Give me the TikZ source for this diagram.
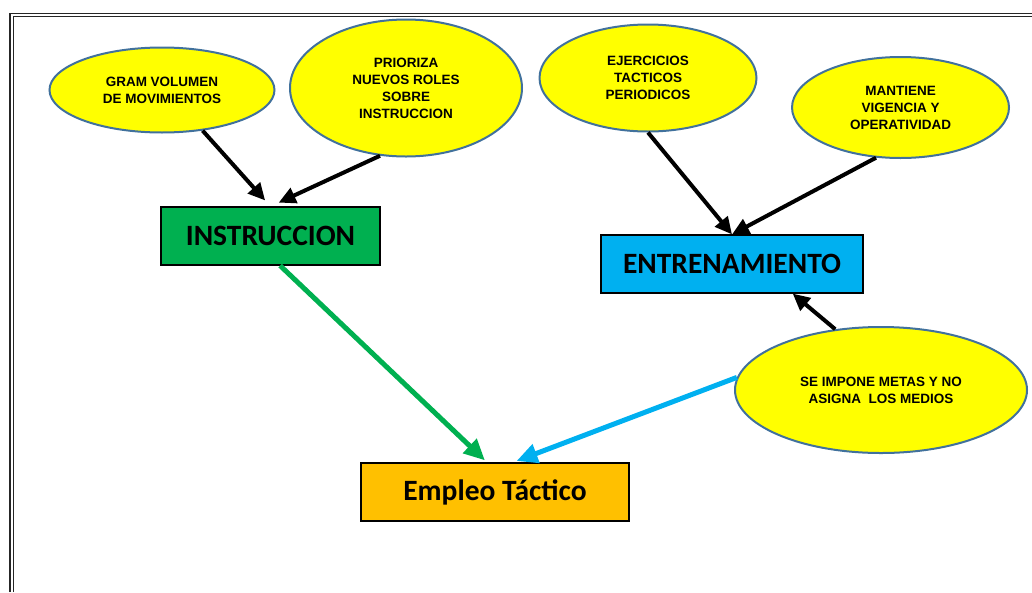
\documentclass[tikz,border=0pt]{standalone}
\usepackage{fontspec}
\setmainfont{Liberation Sans}
\newfontfamily\topicfont{Carlito}
\usetikzlibrary{shapes.geometric, arrows.meta}
\definecolor{ideafill}{HTML}{FFFF00}
\definecolor{ideaborder}{HTML}{41719C}
\definecolor{instrgreen}{HTML}{00B050}
\definecolor{entrblue}{HTML}{00B0F0}
\definecolor{empleoorange}{HTML}{FFC000}
\tikzset{idea/.style={ % Sets the properties for each yellow ellipse
ellipse, draw=ideaborder, line width=2pt,
fill=ideafill, inner sep=0pt, align=center,
font=\bfseries\fontsize{13.5}{17}\selectfont},
topic/.style={ % Sets the properties for each coloured box
rectangle, draw=black, line width=1.2pt,
minimum height=58pt, inner sep=0pt,
font=\topicfont\bfseries\fontsize{29.5}{31}\selectfont},
every edge/.style={ % Sets the properties for each black arrow
draw, -{Triangle[length=17pt,width=16pt]}, line width=4pt},
thick arrow/.style={ % Coloured arrows into the bottom box
line width=5pt, -{Triangle[length=21pt,width=19pt]}}}

\begin{document}
\begin{tikzpicture}[x=1pt, y=-1pt]
    \useasboundingbox (0,0) rectangle (1032,592);
    
    % frame
    \draw[line width=1.8pt, black!85] (10,592) -- (10,13.5) -- (1032,13.5);
    \draw[line width=1pt, black!85] (13,592) -- (13,16.5) -- (1032,16.5);
    
    \node[idea, minimum width=225pt, minimum height=85pt] (gram) at (162,90) {GRAM VOLUMEN\\DE MOVIMIENTOS};
    \node[idea, minimum width=232pt, minimum height=137pt] (prio) at (406,88) {PRIORIZA\\NUEVOS ROLES\\SOBRE\\INSTRUCCION};
    \node[idea, minimum width=217pt, minimum height=107pt] (ejer) at (648,78) {EJERCICIOS\\TACTICOS\\PERIODICOS};
    \node[idea, minimum width=217pt, minimum height=101pt] (mant) at (900.5,107.5) {MANTIENE\\VIGENCIA Y\\OPERATIVIDAD};
    \node[idea, minimum width=292pt, minimum height=126pt] (imp) at (881,390) {SE IMPONE METAS Y NO\\ASIGNA~ LOS MEDIOS};
    
    \node[topic, fill=instrgreen, minimum width=219pt] (instr) at (270.5,236) {INSTRUCCION};
    \node[topic, fill=entrblue, minimum width=262pt] (entren) at (732,264) {ENTRENAMIENTO};
    \node[topic, fill=empleoorange, minimum width=268pt] (empleo) at (495,492) {Empleo Táctico};
    
    \draw (gram.-45) edge[shorten >=8pt] (instr.north);
    \draw (prio.249) edge[shorten >=9pt] (instr.north);
    \draw (ejer.south) edge (entren.north);
    \draw (mant.-116) edge (entren.north);
    \draw (imp.127) edge (entren.-26);
    
    \draw (instr.-72) edge[thick arrow, instrgreen, shorten >=3pt] (empleo.105);
    \draw (imp.175) edge[thick arrow, entrblue, shorten >=4pt] (empleo.59);
    
\end{tikzpicture}
\end{document}
